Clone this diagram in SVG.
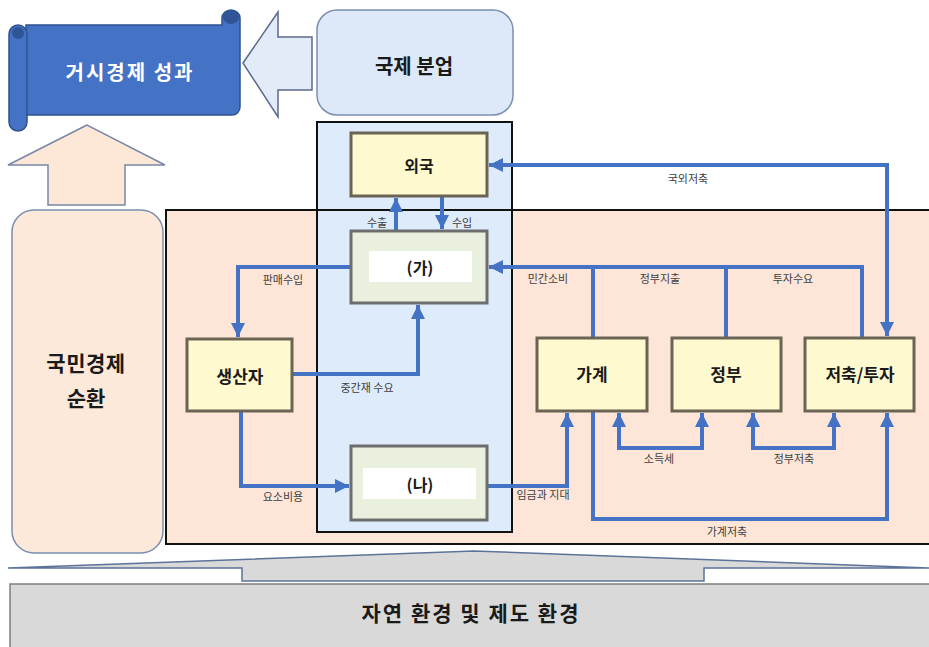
<svg xmlns="http://www.w3.org/2000/svg" width="929" height="647" viewBox="0 0 929 647">
<defs>
<style>
text{font-family:"Noto Sans CJK KR","Noto Sans",sans-serif;text-anchor:middle;dominant-baseline:central}
.big{font-weight:bold;fill:#1a1a1a}
.lbl{font-size:11px;fill:#404040}
.node{fill:#fff9cf;stroke:#6b6455;stroke-width:3}
.gnode{fill:#e9f1de;stroke:#6d6d6d;stroke-width:3}
.con{fill:none;stroke:#4472c4;stroke-width:4}
</style>
<marker id="ah" viewBox="0 0 10 10" refX="10" refY="5" markerWidth="14" markerHeight="14" markerUnits="userSpaceOnUse" orient="auto-start-reverse">
<path d="M0,0 L10,5 L0,10 z" fill="#4472c4"/>
</marker>
</defs>
<rect width="929" height="647" fill="#ffffff"/>

<!-- regions -->
<rect id="domestic-fill" x="166" y="210" width="770" height="334" fill="#fde6d8"/>
<rect id="intl-region" x="317" y="122" width="195" height="410" fill="#deebfa"/>
<rect x="166" y="210" width="770" height="334" fill="none" stroke="#111" stroke-width="2"/>
<rect x="317" y="122" width="195" height="410" fill="none" stroke="#111" stroke-width="2"/>

<!-- banner -->
<g id="macro">
<path d="M26 25 H222 V18 A9 8 0 0 1 240 18 V107 A8 8 0 0 1 232 115 H26 Z" fill="#4472c4" stroke="#2f528f" stroke-width="1.5"/>
<ellipse cx="231" cy="17" rx="8" ry="7" fill="#2f5597"/>
<rect x="9" y="25" width="18" height="106" rx="9" fill="#4472c4" stroke="#2f528f" stroke-width="1.5"/>
<circle cx="18" cy="33" r="6" fill="#2f5597"/>
<text x="130" y="71" style="font-size:20px;font-weight:bold;fill:#ffffff;letter-spacing:2px">거시경제 성과</text>
</g>

<g id="arrow-left">
<polygon points="243,63 278,12 278,37 312,37 312,90 278,90 278,117" fill="#e1ecf8" stroke="#5a6a8a" stroke-width="1.5"/>
</g>

<g id="intl-division">
<rect x="317" y="10" width="196" height="105" rx="20" fill="#dde9f8" stroke="#7a8fb0" stroke-width="1.5"/>
<text class="big" x="414" y="65" style="font-size:20px">국제 분업</text>
</g>

<g id="arrow-up">
<polygon points="87,125 8,165 48,165 48,205 125,205 125,165 165,165" fill="#fde8d8" stroke="#7a86a8" stroke-width="1.5"/>
</g>

<g id="national">
<rect x="12" y="210" width="151" height="343" rx="22" fill="#fde9d9" stroke="#7a8fb0" stroke-width="1.5"/>
<text class="big" x="86" y="362" style="font-size:21px;letter-spacing:0.5px">국민경제</text>
<text class="big" x="86" y="397" style="font-size:21px">순환</text>
</g>

<g id="env-arrow">
<polygon points="242,581 704,581 704,568 929,568 474,551 8,568 242,568" fill="#d9d9d9" stroke="#5b7399" stroke-width="1.5"/>
</g>
<g id="environment">
<rect x="10" y="584" width="925" height="70" fill="#d9d9d9" stroke="#7f7f7f" stroke-width="1.5"/>
<text class="big" x="471" y="612" style="font-size:21px;letter-spacing:2px">자연 환경 및 제도 환경</text>
</g>

<!-- connectors -->
<g id="connectors">
<path class="con" d="M489 165 H887 V336" marker-start="url(#ah)" marker-end="url(#ah)"/>
<path class="con" d="M396 231 V198" marker-end="url(#ah)"/>
<path class="con" d="M442 196 V229" marker-end="url(#ah)"/>
<path class="con" d="M351 267 H238 V337" marker-end="url(#ah)"/>
<path class="con" d="M292 374 H418 V305" marker-end="url(#ah)"/>
<path class="con" d="M241 411 V486 H349" marker-end="url(#ah)"/>
<path class="con" d="M487 486 H567 V413" marker-end="url(#ah)"/>
<path class="con" d="M862 338 V267 H489" marker-end="url(#ah)"/>
<path class="con" d="M593 338 V267"/>
<path class="con" d="M726 338 V267"/>
<path class="con" d="M619 413 V448 H702 V413" marker-start="url(#ah)" marker-end="url(#ah)"/>
<path class="con" d="M753 413 V448 H834 V413" marker-start="url(#ah)" marker-end="url(#ah)"/>
<path class="con" d="M593 411 V519 H887 V413" marker-end="url(#ah)"/>
<text class="lbl" x="688" y="178">국외저축</text>
<text class="lbl" x="377" y="222">수출</text>
<text class="lbl" x="462" y="222">수입</text>
<text class="lbl" x="283" y="279">판매수입</text>
<text class="lbl" x="367" y="387">중간재 수요</text>
<text class="lbl" x="283" y="496">요소비용</text>
<text class="lbl" x="543" y="494">임금과 지대</text>
<text class="lbl" x="548" y="278">민간소비</text>
<text class="lbl" x="660" y="278">정부지출</text>
<text class="lbl" x="793" y="278">투자수요</text>
<text class="lbl" x="659" y="458">소득세</text>
<text class="lbl" x="794" y="458">정부저축</text>
<text class="lbl" x="727" y="531">가계저축</text>
</g>

<!-- nodes -->
<g id="foreign">
<rect class="node" x="351" y="133" width="136" height="63"/>
<text class="big" x="419" y="165" style="font-size:16px">외국</text>
</g>
<g id="ga">
<rect class="gnode" x="351" y="231" width="136" height="72"/>
<rect x="369" y="251" width="103" height="31" fill="#ffffff"/>
<text class="big" x="420" y="267" style="font-size:16px">(가)</text>
</g>
<g id="na">
<rect class="gnode" x="351" y="446" width="136" height="74"/>
<rect x="363" y="468" width="113" height="31" fill="#ffffff"/>
<text class="big" x="420" y="484" style="font-size:16px">(나)</text>
</g>
<g id="producer">
<rect class="node" x="187" y="339" width="105" height="72"/>
<text class="big" x="240" y="375" style="font-size:17px">생산자</text>
</g>
<g id="household">
<rect class="node" x="537" y="338" width="110" height="73"/>
<text class="big" x="592" y="373" style="font-size:17px">가계</text>
</g>
<g id="government">
<rect class="node" x="672" y="338" width="109" height="73"/>
<text class="big" x="726" y="373" style="font-size:17px">정부</text>
</g>
<g id="saving">
<rect class="node" x="805" y="338" width="109" height="73"/>
<text class="big" x="860" y="373" style="font-size:17px">저축/투자</text>
</g>
</svg>
